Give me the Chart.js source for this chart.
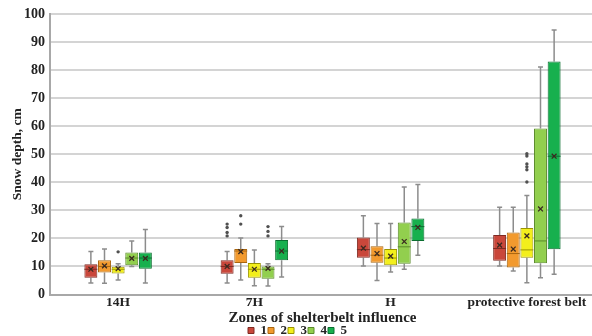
<!DOCTYPE html>
<html><head><meta charset="utf-8">
<script src="https://cdn.jsdelivr.net/npm/chart.js@4/dist/chart.umd.min.js"></script>
<style>
html,body{margin:0;padding:0;overflow:hidden;background:#fff;width:592px;height:336px}
#wrap{position:relative;width:600px;height:336px}
</style>
</head><body><div id="wrap"><canvas id="c"></canvas></div>
<script>
// ---- data (index: [zone][category]) ----
const categories = ['14H', '7H', 'H', 'protective forest belt'];
const zones = ['1', '2', '3', '4', '5'];
const whiskerLow = [
  [4.1, 4.1, 10.2, 10.2],
  [4.0, 5.2, 5.0, 8.4],
  [5.2, 3.1, 8.0, 4.2],
  [10.0, 3.0, 9.0, 6.0],
  [4.1, 6.2, 14.0, 7.2]
];
const quartile1 = [
  [6.0, 7.4, 13.1, 12.0],
  [7.8, 11.2, 11.3, 9.6],
  [7.5, 6.0, 10.4, 13.1],
  [10.4, 5.6, 11.0, 11.1],
  [9.2, 12.2, 19.1, 16.1]
];
const medians = [
  [9.0, 10.0, 16.0, 16.4],
  [10.0, 15.5, 14.0, 14.6],
  [9.0, 9.0, 13.0, 15.9],
  [13.0, 9.0, 17.0, 19.1],
  [13.0, 15.5, 24.2, 49.3]
];
const quartile3 = [
  [10.8, 12.2, 20.3, 21.2],
  [12.2, 16.2, 17.2, 22.1],
  [9.9, 11.2, 16.2, 23.7],
  [15.0, 10.0, 25.7, 59.2],
  [15.0, 19.4, 27.1, 83.1]
];
const whiskerHigh = [
  [15.3, 15.3, 28.1, 31.1],
  [16.2, 20.1, 25.3, 31.1],
  [11.0, 15.9, 25.3, 35.3],
  [19.1, 11.0, 38.3, 81.1],
  [23.2, 24.2, 39.2, 94.3]
];
const means = [
  [9.0, 10.0, 16.5, 17.6],
  [10.2, 15.3, 14.6, 16.2],
  [9.2, 9.0, 13.7, 20.9],
  [12.9, 9.3, 18.9, 30.5],
  [12.9, 15.5, 23.9, 49.3]
];
const outliers = [
  [[], [25.1, 23.9, 22.1, 20.9], [], []],
  [[], [28.1, 25.1], [], []],
  [[15.2], [], [], [50.2, 49.4, 46.5, 45.5, 44.5, 40.1]],
  [[], [24.2, 22.5, 20.9], [], []],
  [[], [], [], []]
];
const yTicks = [0, 10, 20, 30, 40, 50, 60, 70, 80, 90, 100];

// ---- styles ----
const fills = ['#c9473b', '#f29a2e', '#f3ef1c', '#92cf4e', '#17b04e'];
const edges = ['#7e2a22', '#a8650f', '#9a9400', '#5a8a2a', '#0a6e30'];
const FONT = 'Liberation Serif';

const datasets = zones.map((z, i) => ({
  label: z,
  data: categories.map((c, j) => [quartile1[i][j], quartile3[i][j]]),
  backgroundColor: fills[i],
  borderColor: edges[i],
  borderWidth: 1,
  borderSkipped: false,
  categoryPercentage: 0.5,
  barPercentage: 0.95
}));

const boxExtras = {
  id: 'boxExtras',
  beforeDatasetsDraw(chart) {
    const ctx = chart.ctx, ys = chart.scales.y;
    ctx.save();
    ctx.strokeStyle = '#8c8c8c';
    ctx.lineWidth = 1.5;
    chart.data.datasets.forEach((ds, i) => {
      chart.getDatasetMeta(i).data.forEach((bar, j) => {
        const x = bar.x, cap = 2.5;
        const yHi = ys.getPixelForValue(whiskerHigh[i][j]);
        const yLo = ys.getPixelForValue(whiskerLow[i][j]);
        const yQ1 = ys.getPixelForValue(quartile1[i][j]);
        const yQ3 = ys.getPixelForValue(quartile3[i][j]);
        ctx.beginPath();
        ctx.moveTo(x, yQ3); ctx.lineTo(x, yHi);
        ctx.moveTo(x - cap, yHi); ctx.lineTo(x + cap, yHi);
        ctx.moveTo(x, yQ1); ctx.lineTo(x, yLo);
        ctx.moveTo(x - cap, yLo); ctx.lineTo(x + cap, yLo);
        ctx.stroke();
      });
    });
    ctx.restore();
  },
  afterDatasetsDraw(chart) {
    const ctx = chart.ctx, ys = chart.scales.y;
    ctx.save();
    chart.data.datasets.forEach((ds, i) => {
      chart.getDatasetMeta(i).data.forEach((bar, j) => {
        const x = bar.x, hw = bar.width / 2;
        const ym = ys.getPixelForValue(medians[i][j]);
        ctx.strokeStyle = edges[i];
        ctx.lineWidth = 1;
        ctx.beginPath();
        ctx.moveTo(x - hw, ym); ctx.lineTo(x + hw, ym);
        ctx.stroke();
        const ya = ys.getPixelForValue(means[i][j]);
        const s = 2.4;
        ctx.strokeStyle = '#3a2a20';
        ctx.lineWidth = 1.3;
        ctx.beginPath();
        ctx.moveTo(x - s, ya - s); ctx.lineTo(x + s, ya + s);
        ctx.moveTo(x - s, ya + s); ctx.lineTo(x + s, ya - s);
        ctx.stroke();
        ctx.fillStyle = '#505050';
        outliers[i][j].forEach(v => {
          ctx.beginPath();
          ctx.arc(x, ys.getPixelForValue(v), 1.7, 0, Math.PI * 2);
          ctx.fill();
        });
      });
    });
    ctx.restore();
  }
};

new Chart(document.getElementById('c'), {
  type: 'bar',
  data: { labels: categories, datasets },
  options: {
    responsive: true,
    maintainAspectRatio: false,
    animation: false,
    layout: { padding: { top: 14, left: 0, right: 5, bottom: -11 } },
    plugins: {
      tooltip: { enabled: false },
      legend: {
        position: 'bottom',
        labels: {
          boxWidth: 6, boxHeight: 6, padding: 1,
          color: '#222',
          font: { family: FONT, size: 13, weight: 'bold' }
        }
      }
    },
    scales: {
      x: {
        grid: { display: false, drawTicks: false },
        border: { display: true, color: '#a8a8a8', width: 2 },
        ticks: { color: '#222', padding: 0, font: { family: FONT, size: 13.5, weight: 'bold' } },
        title: {
          display: true, text: 'Zones of shelterbelt influence', color: '#222',
          padding: { top: 0, bottom: -2.7 },
          font: { family: FONT, size: 15, weight: 'bold', lineHeight: 1 }
        }
      },
      y: {
        min: 0, max: 100,
        afterBuildTicks(scale) { scale.ticks = yTicks.map(v => ({ value: v })); },
        grid: { color: '#d4d4d4', lineWidth: 2, drawTicks: false },
        border: { display: true, color: '#a8a8a8', width: 2 },
        ticks: { color: '#222', padding: 5, font: { family: FONT, size: 14, weight: 'bold' } },
        title: {
          display: true, text: 'Snow depth, cm', color: '#222',
          padding: { top: 11, bottom: -5.5 },
          font: { family: FONT, size: 13.5, weight: 'bold', lineHeight: 1 }
        }
      }
    }
  },
  plugins: [boxExtras]
});
</script>
</body></html>
